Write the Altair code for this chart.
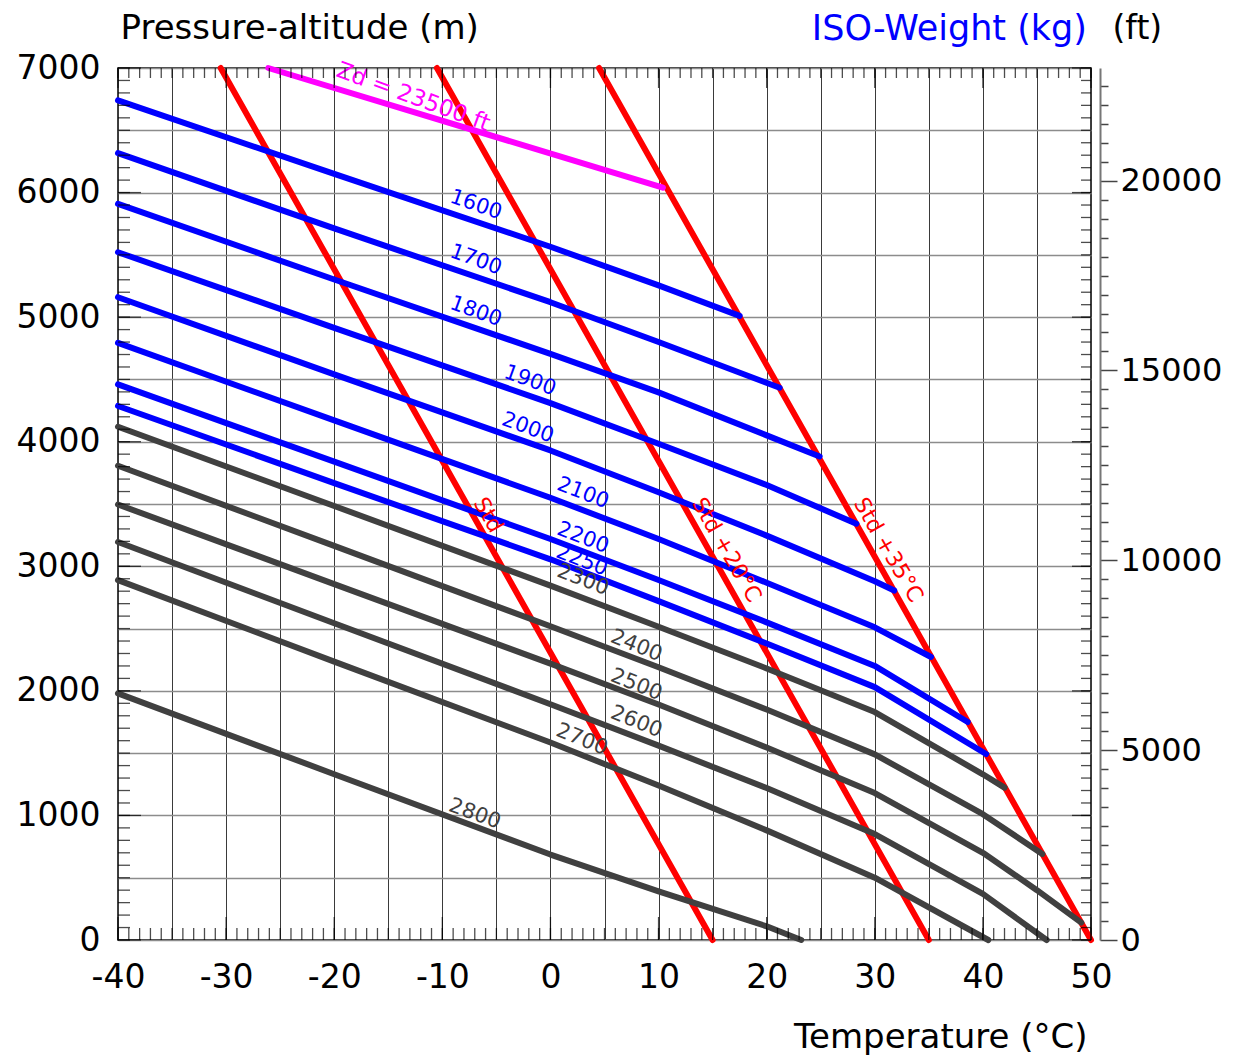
import altair as alt
import pandas as pd

FONT = "DejaVu Sans"
BLUE = "#0000ff"
GRAY = "#404040"
RED = "#ff0000"
MAGENTA = "#ff00ff"
M_TO_FT = 3.28084

# ---------------- axis values ----------------
x_ticks = list(range(-40, 51, 5))
y_ticks = list(range(0, 7001, 500))
ft_ticks = list(range(0, 22501, 500))
minor_T = list(range(-40, 51, 1))
major_T = list(range(-40, 51, 10))
minor_H = list(range(0, 7001, 100))
major_H = list(range(0, 7001, 1000))

# ---------------- ISA temperature lines ----------------
std_names = ["Std", "Std +20°C", "Std +35°C"]
std_T_sl = [15, 35, 50]          # temperature at 0 m
std_T_top = [-30.5, -10.5, 4.5]  # temperature at 7000 m

# ---------------- density altitude line ----------------
zd_T = [-26.1, 10.4]
zd_H = [7000, 6040]

# ---------------- ISO-weight lines (kg) ----------------
weights = [1600, 1700, 1800, 1900, 2000, 2100, 2200, 2250,
           2300, 2400, 2500, 2600, 2700, 2800]
w1600_T = [-40, -20, 0, 10, 17.5]
w1600_H = [6740, 6150, 5565, 5255, 5010]
w1700_T = [-40, -20, 0, 10, 21.2]
w1700_H = [6316, 5712, 5120, 4800, 4433]
w1800_T = [-40, -20, 0, 10, 20, 24.9]
w1800_H = [5909, 5302, 4705, 4396, 4051, 3882]
w1900_T = [-40, -20, 0, 10, 20, 28.3]
w1900_H = [5521, 4914, 4310, 3984, 3652, 3342]
w2000_T = [-40, -20, 0, 10, 20, 30, 31.8]
w2000_H = [5160, 4540, 3930, 3594, 3246, 2880, 2805]
w2100_T = [-40, -20, 0, 10, 20, 30, 35.2]
w2100_H = [4794, 4171, 3550, 3219, 2868, 2510, 2272]
w2200_T = [-40, -20, 0, 10, 20, 30, 38.6]
w2200_H = [4460, 3840, 3219, 2890, 2550, 2200, 1750]
w2250_T = [-40, -20, 0, 10, 20, 30, 40.3]
w2250_H = [4287, 3668, 3056, 2720, 2380, 2030, 1493]
w2300_T = [-40, -20, 0, 10, 20, 30, 40, 42.0]
w2300_H = [4120, 3484, 2845, 2515, 2180, 1830, 1330, 1223]
w2400_T = [-40, -20, 0, 10, 20, 30, 40, 45.5]
w2400_H = [3807, 3164, 2519, 2190, 1850, 1490, 1010, 690]
w2500_T = [-40, -20, 0, 10, 20, 30, 40, 45, 49.1]
w2500_H = [3496, 2857, 2219, 1890, 1545, 1180, 700, 400, 140]
w2600_T = [-40, -20, 0, 10, 20, 30, 40, 45.9]
w2600_H = [3195, 2543, 1893, 1560, 1220, 850, 370, 0]
w2700_T = [-40, -20, 0, 10, 20, 30, 40.5]
w2700_H = [2889, 2235, 1585, 1240, 880, 500, 0]
w2800_T = [-40, -20, 0, 10, 20, 23.2]
w2800_H = [1980, 1331, 686, 390, 110, 0]

series_T = [w1600_T, w1700_T, w1800_T, w1900_T, w2000_T, w2100_T, w2200_T,
            w2250_T, w2300_T, w2400_T, w2500_T, w2600_T, w2700_T, w2800_T]
series_H = [w1600_H, w1700_H, w1800_H, w1900_H, w2000_H, w2100_H, w2200_H,
            w2250_H, w2300_H, w2400_H, w2500_H, w2600_H, w2700_H, w2800_H]

# ---------------- in-chart labels ----------------
lab_text = ["1600", "1700", "1800", "1900", "2000", "2100", "2200", "2250",
            "2300", "2400", "2500", "2600", "2700", "2800",
            "Std", "Std +20°C", "Std +35°C", "Zd = 23500 ft"]
lab_T = [-6.9, -6.9, -6.9, -1.9, -2.1, 3.0, 3.0, 2.9,
         3.0, 7.95, 7.95, 7.95, 2.9, -7.0,
         -5.75, 16.3, 31.25, -12.7]
lab_H = [5900, 5459, 5044, 4490, 4110, 3586, 3227, 3045,
         2890, 2360, 2047, 1750, 1608, 1011,
         3412, 3131, 3131, 6767]
lab_angle = [19, 20, 20, 20, 20, 21, 21, 21,
             21, 22, 22, 22, 22, 20,
             60, 60, 60, 20]
lab_color = [BLUE] * 8 + [GRAY] * 6 + [RED] * 3 + [MAGENTA]
lab_size = [21] * 14 + [22, 22, 22, 23]

# ---------------- tables ----------------
rows = []
for w, ts, hs in zip(weights, series_T, series_H):
    grp = "blue" if w <= 2250 else "gray"
    for i, (t, h) in enumerate(zip(ts, hs)):
        rows.append({"w": str(w), "T": t, "H": h, "i": i, "grp": grp})
w_df = pd.DataFrame(rows)

std_rows = []
for n, t0, t7 in zip(std_names, std_T_sl, std_T_top):
    std_rows.append({"name": n, "T": t0, "H": 0, "i": 0})
    std_rows.append({"name": n, "T": t7, "H": 7000, "i": 1})
std_df = pd.DataFrame(std_rows)

zd_df = pd.DataFrame({"T": zd_T, "H": zd_H, "i": [0, 1]})
lab_df = pd.DataFrame({"text": lab_text, "T": lab_T, "H": lab_H,
                       "angle": lab_angle, "color": lab_color, "fs": lab_size})

xs = alt.Scale(domain=[-40, 50], nice=False, zero=False)
ys = alt.Scale(domain=[0, 7000], nice=False, zero=False)

x_axis = alt.Axis(
    orient="bottom",
    values=x_ticks,
    labelExpr="datum.value % 10 === 0 ? '' + datum.value : ''",
    title="Temperature (°C)", titleX=969, titleY=97, titleAlign="right",
    titleBaseline="middle", titleFont=FONT, titleFontSize=34,
    titleFontWeight="normal", titleColor="black",
    labelFont=FONT, labelFontSize=33, labelColor="black", labelPadding=21,
    labelFlush=False, labelOverlap=False,
    ticks=False, domain=False,
    grid=True, gridColor="#3a3a3a", gridWidth=1,
)
y_axis = alt.Axis(
    orient="left",
    values=y_ticks,
    labelExpr="datum.value % 1000 === 0 ? '' + datum.value : ''",
    title="Pressure-altitude (m)", titleAngle=0, titleX=2, titleY=-40,
    titleAlign="left", titleBaseline="middle", titleFont=FONT,
    titleFontSize=34, titleFontWeight="normal", titleColor="black",
    labelFont=FONT, labelFontSize=33, labelColor="black", labelPadding=18,
    labelFlush=False, labelOverlap=False,
    ticks=False, domain=False,
    grid=True, gridColor="#8c8c8c", gridWidth=1.5,
)
# right-hand axis in feet, drawn on the same metre scale
ft_axis = alt.Axis(
    orient="right", offset=9, values=[v / M_TO_FT for v in ft_ticks],
    labelExpr="round(datum.value * 3.28084) % 5000 === 0 ? '' + round(datum.value * 3.28084) : ''",
    tickSize={"condition": {"test": "round(datum.value * 3.28084) % 5000 === 0", "value": 17}, "value": 8},
    tickColor="#444444", tickWidth=1.5,
    domainColor="#777777", domainWidth=2,
    labelFont=FONT, labelFontSize=32, labelColor="black", labelPadding=3,
    labelFlush=False, labelOverlap=False,
    title="(ft)", titleAngle=0, titleX=12, titleY=-40, titleAlign="left",
    titleBaseline="middle", titleFont=FONT, titleFontSize=33,
    titleFontWeight="normal", titleColor="black",
    grid=False,
)

red = alt.Chart(std_df).mark_line(color=RED, strokeWidth=6, strokeCap="round").encode(
    x=alt.X("T:Q", scale=xs, axis=x_axis),
    y=alt.Y("H:Q", scale=ys, axis=y_axis),
    detail="name:N", order="i:Q",
)
wl = alt.Chart(w_df).mark_line(strokeWidth=6, strokeCap="round", strokeJoin="round").encode(
    x=alt.X("T:Q", scale=xs, axis=None),
    y=alt.Y("H:Q", scale=ys, axis=None),
    color=alt.Color("grp:N", scale=alt.Scale(domain=["blue", "gray"], range=[BLUE, GRAY]), legend=None),
    detail="w:N", order="i:Q",
)
zd = alt.Chart(zd_df).mark_line(color=MAGENTA, strokeWidth=6, strokeCap="round").encode(
    x=alt.X("T:Q", scale=xs, axis=None),
    y=alt.Y("H:Q", scale=ys, axis=None),
    order="i:Q",
)
labels = alt.Chart(lab_df).mark_text(font=FONT, align="center", baseline="middle").encode(
    x=alt.X("T:Q", scale=xs, axis=None),
    y=alt.Y("H:Q", scale=ys, axis=None),
    text="text:N",
    angle=alt.Angle("angle:Q", scale=None),
    color=alt.Color("color:N", scale=None),
    size=alt.Size("fs:Q", scale=None),
)

def tick_layer(vals, along, size, off):
    df = pd.DataFrame({"v": vals})
    if along == "bottom":
        return alt.Chart(df).mark_tick(orient="vertical", size=size, thickness=1.3,
                                       yOffset=-off, color="black").encode(
            x=alt.X("v:Q", scale=xs, axis=None), y=alt.YDatum(0, scale=ys, axis=None))
    if along == "top":
        return alt.Chart(df).mark_tick(orient="vertical", size=size, thickness=1.3,
                                       yOffset=off, color="black").encode(
            x=alt.X("v:Q", scale=xs, axis=None), y=alt.YDatum(7000, scale=ys, axis=None))
    if along == "left":
        return alt.Chart(df).mark_tick(orient="horizontal", size=size, thickness=1.3,
                                       xOffset=off, color="black").encode(
            y=alt.Y("v:Q", scale=ys, axis=None), x=alt.XDatum(-40, scale=xs, axis=None))
    return alt.Chart(df).mark_tick(orient="horizontal", size=size, thickness=1.3,
                                   xOffset=-off, color="black").encode(
        y=alt.Y("v:Q", scale=ys, axis=None), x=alt.XDatum(50, scale=xs, axis=None))

ticks = [
    tick_layer(minor_T, "bottom", 12, 6),
    tick_layer(major_T, "bottom", 23, 11.5),
    tick_layer(minor_T, "top", 10, 5),
    tick_layer(major_T, "top", 20, 10),
    tick_layer(minor_H, "left", 12, 6),
    tick_layer(major_H, "left", 23, 11.5),
    tick_layer(minor_H, "right", 10, 5),
    tick_layer(major_H, "right", 19, 9.5),
]

iso_title = alt.Chart(pd.DataFrame({"t": ["ISO-Weight (kg)"]})).mark_text(
    align="right", baseline="middle", dx=-4, dy=-39, fontSize=35, font=FONT, color=BLUE
).encode(x=alt.XDatum(50, scale=xs, axis=None), y=alt.YDatum(7000, scale=ys, axis=None), text="t:N")

ft_layer = alt.Chart(pd.DataFrame({"H": [0, 7000]})).mark_point(opacity=0).encode(
    y=alt.Y("H:Q", scale=ys, axis=ft_axis)
)

chart = alt.layer(red, wl, zd, labels, *ticks, iso_title, ft_layer).resolve_axis(
    x="independent", y="independent"
).properties(
    width=973, height=872,
    autosize=alt.AutoSizeParams(type="none"),
    padding={"left": 110, "top": 60, "right": 145, "bottom": 115},
    background="white",
).configure_view(stroke="black", strokeWidth=1.5)

chart.save("out.html", embed_options={"renderer": "svg", "actions": False})
